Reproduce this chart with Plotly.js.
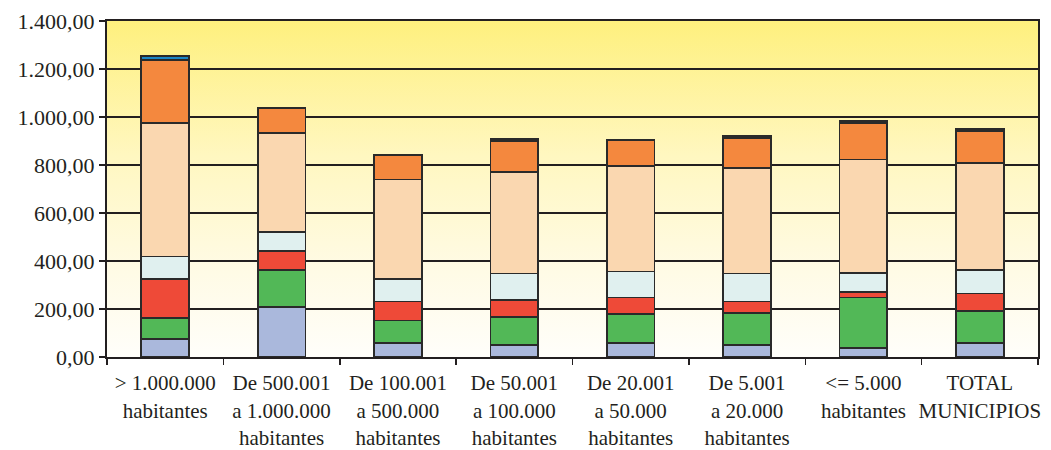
<!DOCTYPE html>
<html>
<head>
<meta charset="utf-8">
<script src="https://cdn.plot.ly/plotly-3.0.1.min.js"></script>
<style>
  html, body { margin: 0; padding: 0; background: #ffffff; }
  #wrap { position: relative; width: 1051px; height: 450px; }
  #bg { position: absolute; left: 107px; top: 21px; width: 931px; height: 336px;
        background: linear-gradient(to bottom, #fef07e 0%, #fff7c0 40%, #fffbe6 75%, #fffefa 100%); }
  #chart { position: absolute; left: 0; top: 0; width: 1051px; height: 450px; }
</style>
</head>
<body>
<div id="wrap">
  <div id="bg"></div>
  <div id="chart"></div>
</div>
<script>
const categories = [
  "> 1.000.000<br>habitantes",
  "De 500.001<br>a 1.000.000<br>habitantes",
  "De 100.001<br>a 500.000<br>habitantes",
  "De 50.001<br>a 100.000<br>habitantes",
  "De 20.001<br>a 50.000<br>habitantes",
  "De 5.001<br>a 20.000<br>habitantes",
  "<= 5.000<br>habitantes",
  "TOTAL<br>MUNICIPIOS"
];
const serie1 = [74, 208, 60, 51, 59, 51, 36, 60];
const serie2 = [88, 156, 92, 117, 119, 133, 212, 132];
const serie3 = [164, 79, 79, 70, 70, 47, 22, 73];
const serie4 = [93, 78, 95, 110, 108, 117, 80, 99];
const serie5 = [555, 414, 414, 422, 439, 439, 473, 445];
const serie6 = [264, 101, 101, 130, 108, 124, 151, 133];
const serie7 = [17, 0, 0, 7, 0, 10, 8, 9];

const series = [serie1, serie2, serie3, serie4, serie5, serie6, serie7];
const colors = ["#aab8dc", "#52b857", "#ee4a38", "#e0f0ef", "#fad7b0", "#f4883e", "#1b86c6"];

const traces = series.map((vals, i) => ({
  type: "bar",
  x: categories,
  y: vals,
  marker: { color: colors[i], line: { color: "#2a2a2a", width: 1.8 } },
  hoverinfo: "y"
}));

const layout = {
  width: 1051,
  height: 450,
  barmode: "stack",
  bargap: 0.59,
  showlegend: false,
  separators: ",.",
  paper_bgcolor: "rgba(0,0,0,0)",
  plot_bgcolor: "rgba(0,0,0,0)",
  margin: { l: 107, r: 13, t: 21, b: 93 },
  font: { family: "Liberation Serif, Times New Roman, serif", size: 22, color: "#231f20" },
  xaxis: {
    type: "category",
    showline: true, linecolor: "#231f20", linewidth: 2,
    mirror: true,
    ticks: "outside", tickson: "boundaries", ticklen: 6, tickwidth: 1.5, tickcolor: "#231f20",
    tickangle: 0,
    ticklabelstandoff: 6,
    showgrid: false,
    tickfont: { size: 21 }
  },
  yaxis: {
    range: [0, 1400],
    tickvals: [0, 200, 400, 600, 800, 1000, 1200, 1400],
    tickformat: ",.2f",
    showline: true, linecolor: "#231f20", linewidth: 2,
    mirror: true,
    ticks: "outside", ticklen: 6, tickwidth: 1.5, tickcolor: "#231f20",
    showgrid: true, gridcolor: "#231f20", gridwidth: 1.8,
    zeroline: false,
    tickfont: { size: 22 }
  }
};

Plotly.newPlot("chart", traces, layout, { displayModeBar: false, staticPlot: true });
</script>
</body>
</html>
